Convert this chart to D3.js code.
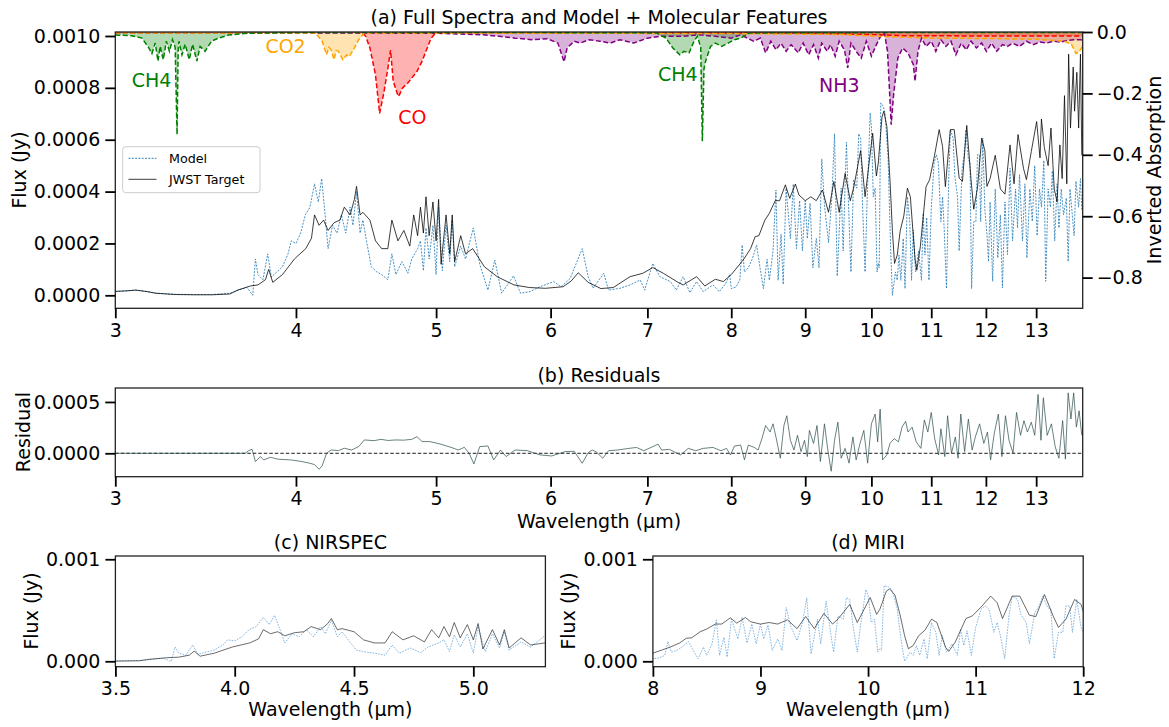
<!DOCTYPE html>
<html><head><meta charset="utf-8">
<script src="https://cdn.jsdelivr.net/npm/d3@7"></script>
<style>
body{margin:0;background:#fff}
svg{display:block}
text{font-family:"DejaVu Sans",sans-serif;fill:#000}
</style>
</head><body>
<svg id="chart" width="1169" height="727"></svg>
<script>
// ---------- DATA (wavelength in µm, flux in Jy) ----------
const targetWave=[3.00,3.05,3.10,3.15,3.20,3.30,3.40,3.50,3.60,3.645,3.72,3.765,3.81,3.83,3.855,3.915,3.99,4.063,4.10,4.12,4.15,4.18,4.21,4.25,4.29,4.32,4.36,4.39,4.405,4.43,4.45,4.50,4.54,4.585,4.63,4.66,4.705,4.75,4.795,4.825,4.855,4.877,4.90,4.92,4.945,4.975,5.00,5.02,5.04,5.08,5.11,5.13,5.15,5.20,5.24,5.30,5.40,5.51,5.66,5.80,5.95,6.12,6.20,6.27,6.37,6.50,6.63,6.81,6.95,7.06,7.18,7.35,7.41,7.57,7.67,7.80,7.90,8.00,8.09,8.16,8.25,8.31,8.36,8.44,8.50,8.58,8.64,8.72,8.78,8.86,8.91,9.00,9.08,9.16,9.25,9.34,9.42,9.50,9.59,9.67,9.72,9.83,9.90,10.02,10.08,10.11,10.17,10.20,10.25,10.30,10.34,10.375,10.42,10.47,10.53,10.59,10.64,10.72,10.75,10.81,10.91,10.97,11.06,11.14,11.20,11.25,11.34,11.41,11.50,11.56,11.64,11.72,11.77,11.84,11.92,11.98,12.02,12.08,12.18,12.28,12.37,12.47,12.55,12.63,12.74,12.80,12.90,13.01,13.08,13.11,13.17,13.25,13.31,13.38,13.44,13.50,13.55,13.60,13.65,13.69,13.73,13.79,13.82,13.87,13.91,13.95,13.98];
const targetFlux=[0.15e-4,0.17e-4,0.20e-4,0.15e-4,0.08e-4,0.03e-4,0.02e-4,0.02e-4,0.05e-4,0.20e-4,0.36e-4,0.40e-4,0.60e-4,1.00e-4,0.50e-4,0.80e-4,1.40e-4,1.80e-4,2.20e-4,3.10e-4,2.70e-4,2.90e-4,2.50e-4,2.80e-4,2.90e-4,3.40e-4,3.10e-4,3.70e-4,4.20e-4,3.10e-4,3.20e-4,2.90e-4,2.10e-4,1.80e-4,1.80e-4,2.90e-4,2.10e-4,2.50e-4,1.90e-4,3.10e-4,2.30e-4,3.40e-4,2.40e-4,3.80e-4,2.30e-4,3.60e-4,2.10e-4,3.70e-4,1.20e-4,3.10e-4,1.60e-4,3.10e-4,1.30e-4,2.30e-4,1.60e-4,1.80e-4,1.10e-4,0.72e-4,0.40e-4,0.30e-4,0.27e-4,0.33e-4,0.55e-4,0.87e-4,0.50e-4,0.26e-4,0.30e-4,0.72e-4,0.85e-4,1.07e-4,0.85e-4,0.50e-4,0.40e-4,0.72e-4,0.36e-4,0.62e-4,0.53e-4,0.80e-4,1.13e-4,1.39e-4,1.80e-4,2.26e-4,2.30e-4,2.90e-4,3.16e-4,3.65e-4,3.65e-4,4.26e-4,3.74e-4,4.29e-4,3.87e-4,3.65e-4,3.80e-4,3.65e-4,4.06e-4,3.20e-4,4.39e-4,3.20e-4,4.70e-4,3.65e-4,4.13e-4,5.58e-4,3.80e-4,6.25e-4,4.60e-4,5.10e-4,6.87e-4,7.10e-4,6.50e-4,4.45e-4,2.50e-4,1.23e-4,1.55e-4,2.50e-4,3.06e-4,4.13e-4,3.80e-4,1.39e-4,0.97e-4,1.87e-4,4.19e-4,4.45e-4,5.42e-4,6.39e-4,5.74e-4,4.19e-4,6.39e-4,6.39e-4,4.52e-4,4.39e-4,6.55e-4,4.45e-4,3.32e-4,4.13e-4,6.06e-4,5.58e-4,4.20e-4,4.50e-4,5.40e-4,4.10e-4,3.90e-4,5.80e-4,4.30e-4,6.20e-4,4.90e-4,4.46e-4,5.55e-4,6.70e-4,5.30e-4,6.80e-4,5.70e-4,5.00e-4,6.45e-4,4.10e-4,3.60e-4,5.80e-4,4.50e-4,7.70e-4,4.30e-4,9.30e-4,6.45e-4,8.80e-4,7.10e-4,8.60e-4,6.45e-4,9.30e-4,5.40e-4];

const modelWave=[3.00,3.05,3.10,3.15,3.20,3.30,3.40,3.50,3.60,3.65,3.70,3.734,3.75,3.765,3.795,3.824,3.846,3.88,3.915,3.95,3.97,4.00,4.03,4.06,4.09,4.12,4.145,4.167,4.19,4.21,4.24,4.27,4.30,4.33,4.36,4.38,4.405,4.43,4.45,4.475,4.51,4.55,4.585,4.63,4.66,4.69,4.735,4.78,4.81,4.855,4.877,4.90,4.92,4.945,4.975,5.00,5.02,5.05,5.08,5.11,5.13,5.15,5.20,5.24,5.305,5.36,5.43,5.49,5.55,5.656,5.72,5.805,5.90,6.03,6.10,6.19,6.25,6.31,6.37,6.42,6.53,6.58,6.70,6.81,6.92,6.97,7.06,7.14,7.26,7.33,7.41,7.49,7.57,7.65,7.77,7.85,7.93,7.98,8.00,8.06,8.11,8.14,8.17,8.22,8.27,8.33,8.375,8.42,8.47,8.50,8.55,8.59,8.62,8.66,8.69,8.73,8.79,8.83,8.875,8.92,8.96,9.00,9.03,9.07,9.11,9.16,9.20,9.24,9.28,9.34,9.39,9.43,9.47,9.53,9.56,9.61,9.66,9.68,9.72,9.77,9.80,9.83,9.86,9.90,9.93,9.98,10.00,10.03,10.06,10.09,10.11,10.125,10.15,10.19,10.22,10.27,10.31,10.34,10.39,10.42,10.45,10.48,10.52,10.55,10.59,10.63,10.66,10.69,10.73,10.78,10.83,10.86,10.89,10.92,10.96,11.00,11.05,11.09,11.125,11.17,11.20,11.23,11.27,11.31,11.34,11.39,11.42,11.47,11.50,11.55,11.59,11.625,11.67,11.70,11.73,11.77,11.81,11.84,11.875,11.90,11.94,11.98,12.02,12.05,12.08,12.13,12.18,12.23,12.28,12.32,12.37,12.42,12.47,12.52,12.58,12.62,12.66,12.72,12.77,12.81,12.87,12.92,12.97,13.02,13.07,13.11,13.16,13.20,13.25,13.30,13.34,13.39,13.44,13.48,13.53,13.58,13.64,13.68,13.72,13.77,13.81,13.85,13.91,13.95,13.98];
const modelFlux=[0.15e-4,0.17e-4,0.20e-4,0.15e-4,0.08e-4,0.04e-4,0.03e-4,0.03e-4,0.08e-4,0.20e-4,0.30e-4,0.00e-4,1.40e-4,0.80e-4,0.60e-4,1.60e-4,0.70e-4,0.90e-4,1.10e-4,1.60e-4,2.10e-4,2.00e-4,2.40e-4,3.10e-4,3.40e-4,4.30e-4,3.60e-4,4.50e-4,3.10e-4,1.80e-4,2.70e-4,2.40e-4,3.10e-4,2.40e-4,3.40e-4,2.70e-4,4.00e-4,2.40e-4,2.90e-4,2.10e-4,1.10e-4,0.90e-4,0.80e-4,0.60e-4,1.60e-4,0.80e-4,1.30e-4,0.85e-4,1.40e-4,1.80e-4,2.10e-4,0.95e-4,2.60e-4,1.40e-4,2.70e-4,0.80e-4,3.40e-4,0.95e-4,2.70e-4,1.30e-4,2.90e-4,1.10e-4,1.90e-4,1.40e-4,2.60e-4,1.20e-4,0.20e-4,1.36e-4,0.08e-4,0.75e-4,0.08e-4,0.14e-4,0.33e-4,0.53e-4,0.33e-4,0.65e-4,1.23e-4,1.80e-4,0.72e-4,0.27e-4,0.85e-4,0.20e-4,0.27e-4,0.40e-4,0.59e-4,0.20e-4,1.23e-4,0.72e-4,0.53e-4,0.20e-4,0.72e-4,0.10e-4,0.53e-4,0.14e-4,0.40e-4,0.14e-4,0.46e-4,0.80e-4,0.26e-4,0.32e-4,0.58e-4,1.94e-4,0.90e-4,1.06e-4,1.39e-4,1.94e-4,1.06e-4,0.26e-4,1.39e-4,0.58e-4,1.71e-4,4.06e-4,0.58e-4,2.35e-4,0.42e-4,4.13e-4,2.19e-4,4.29e-4,1.80e-4,3.65e-4,1.71e-4,3.65e-4,2.19e-4,3.55e-4,1.06e-4,2.19e-4,1.06e-4,5.26e-4,3.48e-4,2.03e-4,3.80e-4,6.23e-4,0.74e-4,4.13e-4,1.71e-4,5.90e-4,2.19e-4,0.90e-4,4.45e-4,4.13e-4,6.23e-4,6.06e-4,3.48e-4,0.90e-4,3.48e-4,7.03e-4,6.50e-4,3.80e-4,4.13e-4,0.90e-4,1.23e-4,1.06e-4,7.42e-4,7.29e-4,7.03e-4,5.26e-4,1.87e-4,0.00e-4,0.90e-4,0.58e-4,1.55e-4,0.58e-4,2.19e-4,0.26e-4,3.80e-4,2.84e-4,0.58e-4,2.52e-4,0.90e-4,1.71e-4,0.58e-4,3.16e-4,1.55e-4,3.00e-4,0.58e-4,3.32e-4,5.10e-4,5.42e-4,5.10e-4,2.84e-4,3.80e-4,2.52e-4,0.26e-4,4.45e-4,6.39e-4,6.06e-4,4.61e-4,3.80e-4,1.71e-4,4.77e-4,5.42e-4,6.39e-4,5.26e-4,5.10e-4,0.26e-4,2.84e-4,2.84e-4,5.42e-4,5.42e-4,2.84e-4,6.06e-4,3.32e-4,2.35e-4,1.30e-4,3.60e-4,0.54e-4,4.10e-4,1.44e-4,3.10e-4,0.28e-4,3.60e-4,1.57e-4,4.90e-4,2.10e-4,4.10e-4,2.60e-4,4.65e-4,2.10e-4,4.30e-4,1.44e-4,4.10e-4,2.85e-4,5.00e-4,2.30e-4,4.10e-4,3.40e-4,5.20e-4,0.54e-4,4.10e-4,3.40e-4,4.80e-4,2.10e-4,4.30e-4,2.60e-4,4.10e-4,3.10e-4,3.75e-4,1.30e-4,4.10e-4,3.10e-4,2.30e-4,4.40e-4,3.40e-4,4.50e-4,3.25e-4];

const residWave=[3.00,3.60,3.69,3.71,3.73,3.75,3.78,3.80,3.84,3.89,3.97,4.04,4.09,4.12,4.15,4.17,4.20,4.23,4.28,4.32,4.37,4.42,4.46,4.53,4.58,4.63,4.69,4.75,4.81,4.85,4.89,4.95,5.03,5.12,5.18,5.23,5.27,5.31,5.36,5.43,5.48,5.54,5.59,5.67,5.78,5.90,6.01,6.14,6.23,6.31,6.37,6.41,6.45,6.52,6.58,6.675,6.80,6.88,6.96,7.04,7.12,7.16,7.25,7.38,7.47,7.56,7.65,7.77,7.87,7.94,7.99,8.04,8.12,8.17,8.22,8.30,8.35,8.40,8.45,8.51,8.55,8.59,8.65,8.70,8.74,8.79,8.84,8.89,8.94,8.99,9.03,9.06,9.12,9.17,9.22,9.28,9.33,9.38,9.43,9.48,9.53,9.59,9.65,9.71,9.76,9.82,9.88,9.94,10.00,10.06,10.10,10.14,10.18,10.25,10.30,10.37,10.44,10.50,10.56,10.60,10.67,10.74,10.82,10.88,10.94,11.00,11.06,11.13,11.17,11.24,11.29,11.36,11.43,11.48,11.53,11.60,11.67,11.74,11.80,11.88,11.96,12.03,12.09,12.16,12.24,12.31,12.38,12.45,12.53,12.60,12.68,12.75,12.82,12.90,12.97,13.04,13.10,13.15,13.23,13.32,13.40,13.48,13.56,13.62,13.68,13.74,13.80,13.86,13.92,13.98];
const residVal=[0,0,0,0.26e-4,0.39e-4,-0.81e-4,-0.32e-4,-0.65e-4,-0.39e-4,-0.58e-4,-0.65e-4,-0.81e-4,-0.97e-4,-1.10e-4,-1.56e-4,-1.23e-4,0.00e-4,0.32e-4,0.26e-4,0.49e-4,0.32e-4,0.65e-4,1.30e-4,1.23e-4,1.36e-4,1.25e-4,1.30e-4,1.28e-4,1.36e-4,1.62e-4,1.14e-4,1.14e-4,0.91e-4,0.58e-4,0.32e-4,0.58e-4,0.00e-4,-1.04e-4,0.65e-4,0.71e-4,-0.65e-4,0.32e-4,-0.32e-4,0.32e-4,0.26e-4,-0.16e-4,-0.26e-4,0.16e-4,0.19e-4,-0.97e-4,0.06e-4,0.32e-4,0.16e-4,-0.48e-4,0.25e-4,0.32e-4,0.48e-4,0.57e-4,0.25e-4,0.57e-4,0.89e-4,0.32e-4,0.38e-4,-0.16e-4,0.48e-4,0.25e-4,0.48e-4,0.57e-4,0.25e-4,0.48e-4,-0.16e-4,0.70e-4,0.80e-4,-0.64e-4,0.80e-4,0.57e-4,0.32e-4,1.43e-4,2.70e-4,2.07e-4,2.87e-4,1.59e-4,-0.48e-4,2.70e-4,3.66e-4,1.27e-4,0.32e-4,1.75e-4,0.16e-4,1.27e-4,-0.32e-4,2.23e-4,0.96e-4,2.70e-4,-0.80e-4,2.87e-4,0.32e-4,-1.75e-4,1.27e-4,3.03e-4,-0.48e-4,0.48e-4,-0.96e-4,1.59e-4,-0.64e-4,0.96e-4,2.23e-4,-0.96e-4,2.87e-4,3.82e-4,1.11e-4,4.30e-4,-0.64e-4,-0.16e-4,0.96e-4,1.43e-4,1.11e-4,2.55e-4,3.12e-4,2.07e-4,2.55e-4,1.11e-4,0.48e-4,3.25e-4,2.07e-4,3.98e-4,1.43e-4,-0.16e-4,2.39e-4,-0.32e-4,3.66e-4,0.00e-4,1.59e-4,-0.48e-4,3.82e-4,0.16e-4,3.34e-4,0.32e-4,1.59e-4,2.87e-4,0.96e-4,2.07e-4,-0.64e-4,1.91e-4,3.82e-4,-0.32e-4,3.66e-4,1.27e-4,0.00e-4,3.98e-4,1.75e-4,3.18e-4,2.07e-4,3.03e-4,1.75e-4,5.73e-4,1.27e-4,5.41e-4,1.75e-4,2.87e-4,0.64e-4,-0.48e-4,3.18e-4,-0.57e-4,5.89e-4,3.34e-4,5.89e-4,2.55e-4,4.14e-4,1.75e-4];

// molecular features (inverted absorption, right axis)
const ch4Wave=[3.00,3.08,3.13,3.163,3.18,3.197,3.211,3.222,3.238,3.254,3.27,3.286,3.30,3.31,3.316,3.32,3.336,3.353,3.375,3.393,3.416,3.434,3.461,3.497,3.536,3.594,3.709,4.00,5.00,6.00,7.10,7.21,7.29,7.37,7.42,7.48,7.54,7.58,7.62,7.64,7.66,7.68,7.74,7.80,7.88,7.96,8.04,8.12,8.24,10.0,14.0];
const ch4Val=[-0.010,-0.012,-0.020,-0.050,-0.070,-0.036,-0.095,-0.047,-0.090,-0.030,-0.063,-0.025,-0.050,-0.334,-0.060,-0.030,-0.074,-0.040,-0.090,-0.040,-0.095,-0.047,-0.063,-0.030,-0.020,-0.010,-0.004,-0.002,-0.002,-0.002,-0.003,-0.020,-0.052,-0.074,-0.063,-0.068,-0.030,-0.014,-0.050,-0.356,-0.120,-0.095,-0.047,-0.036,-0.047,-0.036,-0.025,-0.020,-0.003,-0.002,-0.002];
const co2Wave=[3.00,4.10,4.128,4.17,4.20,4.215,4.23,4.25,4.265,4.28,4.31,4.335,4.355,4.39,4.42,4.46,6.00,8.00,9.50,10.2,11.0,12.0,13.0,13.6,13.75,13.85,13.92,14.0];
const co2Val=[-0.003,-0.003,-0.004,-0.030,-0.074,-0.050,-0.058,-0.090,-0.060,-0.063,-0.090,-0.075,-0.080,-0.052,-0.025,-0.003,-0.004,-0.005,-0.008,-0.015,-0.020,-0.021,-0.024,-0.030,-0.040,-0.070,-0.065,-0.045];
const coWave=[3.00,4.40,4.45,4.47,4.50,4.54,4.57,4.60,4.63,4.65,4.67,4.70,4.71,4.74,4.78,4.81,4.85,4.89,4.93,4.96,5.00,7.00,9.00,10.0,10.5,12.0,14.0];
const coVal=[-0.001,-0.001,-0.005,-0.014,-0.052,-0.140,-0.265,-0.200,-0.120,-0.059,-0.160,-0.200,-0.210,-0.182,-0.166,-0.150,-0.128,-0.095,-0.052,-0.020,-0.002,-0.002,-0.004,-0.008,-0.012,-0.013,-0.013];
const nh3Wave=[3.00,4.00,5.00,5.39,5.53,5.67,5.82,5.97,6.07,6.13,6.16,6.23,6.29,6.38,6.49,6.60,6.70,6.85,7.00,7.14,7.41,7.60,7.80,8.00,8.12,8.29,8.38,8.45,8.52,8.59,8.66,8.73,8.80,8.90,8.97,9.05,9.12,9.19,9.24,9.32,9.37,9.44,9.50,9.58,9.63,9.68,9.76,9.84,9.92,10.00,10.08,10.16,10.21,10.26,10.29,10.32,10.36,10.43,10.51,10.60,10.69,10.72,10.77,10.83,10.91,11.00,11.08,11.17,11.26,11.35,11.44,11.54,11.63,11.72,11.82,11.92,12.01,12.11,12.21,12.32,12.42,12.52,12.66,12.80,12.94,13.08,13.22,13.36,13.51,13.65,13.80,13.95,14.0];
const nh3Val=[-0.003,-0.003,-0.004,-0.009,-0.014,-0.020,-0.025,-0.022,-0.036,-0.097,-0.052,-0.030,-0.036,-0.025,-0.030,-0.036,-0.025,-0.036,-0.020,-0.014,-0.014,-0.009,-0.014,-0.020,-0.009,-0.030,-0.020,-0.068,-0.030,-0.058,-0.036,-0.063,-0.041,-0.068,-0.036,-0.074,-0.041,-0.085,-0.036,-0.063,-0.041,-0.079,-0.030,-0.058,-0.117,-0.036,-0.063,-0.085,-0.030,-0.079,-0.041,-0.009,-0.003,-0.063,-0.180,-0.302,-0.204,-0.085,-0.052,-0.068,-0.106,-0.160,-0.063,-0.020,-0.047,-0.030,-0.063,-0.025,-0.047,-0.030,-0.074,-0.036,-0.058,-0.030,-0.052,-0.036,-0.063,-0.036,-0.063,-0.041,-0.047,-0.036,-0.047,-0.030,-0.041,-0.033,-0.036,-0.030,-0.033,-0.028,-0.025,-0.025,-0.028];
const molNames=["NH3","CO","CO2","CH4"];
const molColors=["purple","red","orange","green"];
const molLabelText=["CH4","CO2","CO","CH4","NH3"];
const molLabelWave=[3.08,3.81,4.708,7.12,9.2];
const molLabelVal=[-0.178,-0.069,-0.300,-0.159,-0.194];
const molLabelColor=["green","orange","red","green","purple"];

const fullTicks=[3,4,5,6,7,8,9,10,11,12,13];
const fluxTicks=[0,0.0002,0.0004,0.0006,0.0008,0.0010];
const absTicks=[0,-0.2,-0.4,-0.6,-0.8];
const residTicks=[0,0.0005];
const nirTicks=[3.5,4.0,4.5,5.0];
const miriTicks=[8,9,10,11,12];
const zoomFluxTicks=[0,0.001];

// ---------- DRAWING ----------
const svg=d3.select("#chart");
const FONT=19;
const defs=svg.append("defs");
let clipN=0;
function clip(x0,y0,x1,y1){const id="cp"+(clipN++);defs.append("clipPath").attr("id",id).append("rect").attr("x",x0).attr("y",y0).attr("width",x1-x0).attr("height",y1-y0);return "url(#"+id+")";}

function styleAxis(g){
  g.select(".domain").remove();
  g.selectAll(".tick line").attr("stroke","#000").attr("stroke-width",1.8);
  g.selectAll(".tick text").attr("font-size",FONT).attr("font-family","DejaVu Sans").attr("fill","#000");
}
function frame(x0,y0,x1,y1){
  svg.append("rect").attr("x",x0).attr("y",y0).attr("width",x1-x0).attr("height",y1-y0).attr("fill","none").attr("stroke","#222").attr("stroke-width",1.3);
}
function lineOf(xs,ys,xS,yS){return d3.line().x(i=>xS(xs[i])).y(i=>yS(ys[i]))(d3.range(xs.length));}
function title(txt,x,y){svg.append("text").attr("x",x).attr("y",y).attr("text-anchor","middle").attr("font-size",FONT).text(txt);}
function vlabel(txt,x,y){svg.append("text").attr("transform",`translate(${x},${y}) rotate(-90)`).attr("text-anchor","middle").attr("font-size",FONT).text(txt);}

// Panel (a)
const aL=115.3,aR=1082.7,aT=32,aB=308.3;
const xA=d3.scaleLog().domain([3,14.0]).range([aL,aR]);
const yA=d3.scaleLinear().domain([-0.0000501,0.0010154]).range([aB,aT]);
const yR=d3.scaleLinear().domain([-0.9,0]).range([aB,aT]);
const gA=svg.append("g").attr("clip-path",clip(aL,aT,aR,aB));
gA.append("path").attr("d",lineOf(modelWave,modelFlux,xA,yA)).attr("fill","none").attr("stroke","#1f77b4").attr("stroke-width",0.9).attr("stroke-dasharray","2,1.3").attr("opacity",0.9);
gA.append("path").attr("d",lineOf(targetWave,targetFlux,xA,yA)).attr("fill","none").attr("stroke","#000").attr("stroke-width",0.9).attr("opacity",0.85);
const molW=[nh3Wave,coWave,co2Wave,ch4Wave], molV=[nh3Val,coVal,co2Val,ch4Val];
molNames.forEach((m,k)=>{
  const xs=molW[k], ys=molV[k];
  const area=d3.area().x(i=>xA(xs[i])).y0(yR(0)).y1(i=>yR(ys[i]))(d3.range(xs.length));
  gA.append("path").attr("d",area).attr("fill",molColors[k]).attr("opacity",0.3);
});
molNames.forEach((m,k)=>{
  gA.append("path").attr("d",lineOf(molW[k],molV[k],xA,yR)).attr("fill","none").attr("stroke",molColors[k]).attr("stroke-width",1.5).attr("stroke-dasharray","5,2.5");
});
molLabelText.forEach((t,i)=>{
  svg.append("text").attr("x",xA(molLabelWave[i])).attr("y",yR(molLabelVal[i])).attr("font-size",FONT).attr("fill",molLabelColor[i]).style("fill",molLabelColor[i]).text(t);
});
frame(aL,aT,aR,aB);
styleAxis(svg.append("g").attr("transform",`translate(0,${aB})`).call(d3.axisBottom(xA).tickValues(fullTicks).tickFormat(d3.format("d")).tickSize(10).tickPadding(5)));
styleAxis(svg.append("g").attr("transform",`translate(${aL},0)`).call(d3.axisLeft(yA).tickValues(fluxTicks).tickFormat(d3.format(".4f")).tickSize(10).tickPadding(5)));
styleAxis(svg.append("g").attr("transform",`translate(${aR},0)`).call(d3.axisRight(yR).tickValues(absTicks).tickFormat(d3.format(".1f")).tickSize(10).tickPadding(4)));
title("(a) Full Spectra and Model + Molecular Features",(aL+aR)/2,24);
vlabel("Flux (Jy)",26,170);
vlabel("Inverted Absorption",1161,170);
// legend
const lg=svg.append("g");
lg.append("rect").attr("x",122.7).attr("y",146.7).attr("width",137.3).attr("height",46).attr("rx",3).attr("fill","#fff").attr("fill-opacity",0.8).attr("stroke","#ccc").attr("stroke-width",1);
lg.append("line").attr("x1",128.5).attr("x2",156.5).attr("y1",158.3).attr("y2",158.3).attr("stroke","#1f77b4").attr("stroke-width",0.9).attr("stroke-dasharray","2,1.3");
lg.append("line").attr("x1",128.5).attr("x2",156.5).attr("y1",179.3).attr("y2",179.3).attr("stroke","#000").attr("stroke-width",0.9).attr("opacity",0.85);
lg.append("text").attr("x",169).attr("y",163).attr("font-size",12.7).text("Model");
lg.append("text").attr("x",169).attr("y",184).attr("font-size",12.7).text("JWST Target");

// Panel (b)
const bT=388,bB=476.7;
const yB=d3.scaleLinear().domain([-0.000228,0.000636]).range([bB,bT]);
const gB=svg.append("g").attr("clip-path",clip(aL,bT,aR,bB));
gB.append("line").attr("x1",aL).attr("x2",aR).attr("y1",yB(0)).attr("y2",yB(0)).attr("stroke","#000").attr("stroke-width",0.9).attr("stroke-dasharray","3.5,2");
gB.append("path").attr("d",lineOf(residWave,residVal,xA,yB)).attr("fill","none").attr("stroke","#2f4f4f").attr("stroke-width",0.9).attr("opacity",0.8);
frame(aL,bT,aR,bB);
styleAxis(svg.append("g").attr("transform",`translate(0,${bB})`).call(d3.axisBottom(xA).tickValues(fullTicks).tickFormat(d3.format("d")).tickSize(10).tickPadding(5)));
styleAxis(svg.append("g").attr("transform",`translate(${aL},0)`).call(d3.axisLeft(yB).tickValues(residTicks).tickFormat(d3.format(".4f")).tickSize(10).tickPadding(5)));
title("(b) Residuals",(aL+aR)/2,382);
vlabel("Residual",30,432);
svg.append("text").attr("x",(aL+aR)/2).attr("y",528).attr("text-anchor","middle").attr("font-size",FONT).text("Wavelength (µm)");

// Panels (c) and (d)
const zT=556,zB=666.7;
const yZ=d3.scaleLinear().domain([-0.000053,0.001032]).range([zB,zT]);
function zoomPanel(L,R,dom,ticks,fmt,ttl,ylabX){
  const xS=d3.scaleLinear().domain(dom).range([L,R]);
  const g=svg.append("g").attr("clip-path",clip(L,zT,R,zB));
  g.append("path").attr("d",lineOf(modelWave,modelFlux,xS,yZ)).attr("fill","none").attr("stroke","#3a8ad0").attr("stroke-width",0.9).attr("stroke-dasharray","1.6,1.2").attr("opacity",0.7);
  g.append("path").attr("d",lineOf(targetWave,targetFlux,xS,yZ)).attr("fill","none").attr("stroke","#222").attr("stroke-width",0.9).attr("opacity",0.75);
  frame(L,zT,R,zB);
  styleAxis(svg.append("g").attr("transform",`translate(0,${zB})`).call(d3.axisBottom(xS).tickValues(ticks).tickFormat(d3.format(fmt)).tickSize(10).tickPadding(5)));
  styleAxis(svg.append("g").attr("transform",`translate(${L},0)`).call(d3.axisLeft(yZ).tickValues(zoomFluxTicks).tickFormat(d3.format(".3f")).tickSize(10).tickPadding(5)));
  title(ttl,(L+R)/2,549);
  vlabel("Flux (Jy)",ylabX,611);
  svg.append("text").attr("x",(L+R)/2).attr("y",716).attr("text-anchor","middle").attr("font-size",FONT).text("Wavelength (µm)");
}
zoomPanel(115.4,545.4,[3.5,5.302],nirTicks,".1f","(c) NIRSPEC",37.5);
zoomPanel(652.9,1083.2,[8,12],miriTicks,"d","(d) MIRI",575);
</script>
</body></html>
